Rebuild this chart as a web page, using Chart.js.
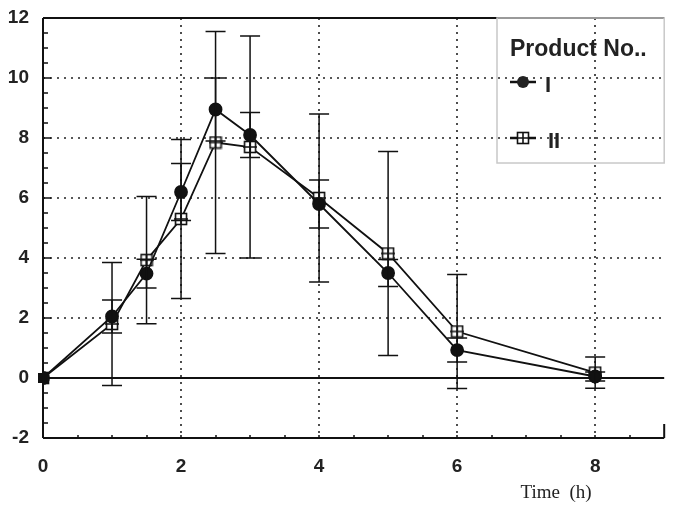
<!DOCTYPE html>
<html>
<head>
<meta charset="utf-8">
<script src="https://cdn.jsdelivr.net/npm/chart.js@4.4.1/dist/chart.umd.min.js"></script>
<style>
  body { margin: 0; background: #fff; }
  #wrap { width: 673px; height: 506px; position: relative; }
</style>
</head>
<body>
<div id="wrap"><canvas id="plasmaChart"></canvas></div>
<script>
// Sampling times (h) and mean concentrations with SD for both products
const times = [0, 1, 1.5, 2, 2.5, 3, 4, 5, 6, 8];
const productI = [0, 2.05, 3.48, 6.2, 8.95, 8.1, 5.8, 3.5, 0.93, 0.05];
const productIErr = [0, 0.55, 0.48, 0.95, 1.05, 0.75, 0.8, 0.45, 0.4, 0.15];
const productII = [0, 1.8, 3.93, 5.3, 7.85, 7.7, 6.0, 4.15, 1.55, 0.18];
const productIIErr = [0, 2.05, 2.12, 2.65, 3.7, 3.7, 2.8, 3.4, 1.9, 0.52];
const xTicks = [0, 2, 4, 6, 8];
const yTicks = [-2, 0, 2, 4, 6, 8, 10, 12];
const seriesLabels = ['I', 'II'];

// open square with a cross, used for product II
function makeSquareMarker(size) {
  const c = document.createElement('canvas');
  c.width = size; c.height = size;
  const g = c.getContext('2d');
  const m = 1.5, s = size - 3;
  g.fillStyle = '#fff';
  g.fillRect(m, m, s, s);
  g.strokeStyle = '#111';
  g.lineWidth = 1.6;
  g.strokeRect(m, m, s, s);
  g.beginPath();
  g.moveTo(0, size / 2); g.lineTo(size, size / 2);
  g.moveTo(size / 2, m); g.lineTo(size / 2, size - m);
  g.stroke();
  return c;
}
const squareMarker = makeSquareMarker(14);

function toPoints(ys) {
  return times.map((t, i) => ({ x: t, y: ys[i] }));
}

// grid, frame, minor ticks
const framePlugin = {
  id: 'frame',
  beforeDatasetsDraw(chart) {
    const { ctx, chartArea: a, scales: { x, y } } = chart;
    ctx.save();
    ctx.strokeStyle = '#222';
    ctx.lineWidth = 1.6;
    ctx.setLineDash([2, 5]);
    xTicks.slice(1).forEach(v => {
      const px = Math.round(x.getPixelForValue(v));
      ctx.beginPath(); ctx.moveTo(px, a.top); ctx.lineTo(px, a.bottom); ctx.stroke();
    });
    yTicks.filter(v => v > 0 && v < 12).forEach(v => {
      const py = Math.round(y.getPixelForValue(v));
      ctx.beginPath(); ctx.moveTo(a.left, py); ctx.lineTo(a.right, py); ctx.stroke();
    });
    ctx.setLineDash([]);
    ctx.lineWidth = 2;
    ctx.strokeStyle = '#111';
    // left axis, top border, bottom axis, zero line
    ctx.beginPath();
    ctx.moveTo(a.left, a.top); ctx.lineTo(a.right, a.top);
    ctx.moveTo(a.left, a.top); ctx.lineTo(a.left, a.bottom);
    ctx.moveTo(a.left, a.bottom); ctx.lineTo(a.right, a.bottom);
    ctx.moveTo(a.right, a.bottom); ctx.lineTo(a.right, a.bottom - 14);
    const y0 = y.getPixelForValue(0);
    ctx.moveTo(a.left, y0); ctx.lineTo(a.right, y0);
    ctx.stroke();
    // y ticks every 0.5, longer at labels
    ctx.lineWidth = 1.5;
    ctx.beginPath();
    for (let v = -2; v <= 12; v += 0.5) {
      const py = Math.round(y.getPixelForValue(v));
      const len = (v % 2 === 0) ? 8 : 5;
      ctx.moveTo(a.left, py); ctx.lineTo(a.left + len, py);
    }
    for (let v = 0.5; v < 9; v += 0.5) {
      const px = Math.round(x.getPixelForValue(v));
      ctx.moveTo(px, a.bottom); ctx.lineTo(px, a.bottom - 3);
    }
    ctx.stroke();
    ctx.restore();
  },
  afterDatasetsDraw(chart) {
    // error bars drawn through the scales
    const { ctx, scales: { x, y } } = chart;
    ctx.save();
    ctx.strokeStyle = '#111';
    ctx.lineWidth = 1.5;
    const cap = 10;
    [[productII, productIIErr], [productI, productIErr]].forEach(([vals, errs]) => {
      times.forEach((t, i) => {
        if (!errs[i]) return;
        const px = x.getPixelForValue(t);
        const hi = y.getPixelForValue(vals[i] + errs[i]);
        const lo = y.getPixelForValue(vals[i] - errs[i]);
        ctx.beginPath();
        ctx.moveTo(px, hi); ctx.lineTo(px, lo);
        ctx.moveTo(px - cap, hi); ctx.lineTo(px + cap, hi);
        ctx.moveTo(px - cap, lo); ctx.lineTo(px + cap, lo);
        ctx.stroke();
      });
    });
    // overlapping start point shows as a solid block
    const px0 = x.getPixelForValue(times[0]);
    const py0 = y.getPixelForValue(productI[0]);
    ctx.fillStyle = '#111';
    ctx.fillRect(px0 - 5, py0 - 5, 10, 10);
    ctx.restore();
  },
  afterDraw(chart) {
    const { ctx, chartArea: a } = chart;
    ctx.save();
    // legend box
    ctx.strokeStyle = '#c8c8c8';
    ctx.lineWidth = 1.5;
    ctx.strokeRect(497, a.top, a.right - 497, 145);
    ctx.fillStyle = '#222';
    ctx.font = 'bold 23px "Liberation Sans", Arial, sans-serif';
    ctx.textBaseline = 'middle';
    ctx.fillText('Product No..', 510, 50);
    ctx.strokeStyle = '#111';
    ctx.lineWidth = 2.5;
    ctx.beginPath();
    ctx.moveTo(510, 82); ctx.lineTo(536, 82);
    ctx.moveTo(510, 138); ctx.lineTo(536, 138);
    ctx.stroke();
    ctx.beginPath();
    ctx.arc(523, 82, 6, 0, Math.PI * 2);
    ctx.fill();
    ctx.drawImage(squareMarker, 516, 131);
    ctx.font = 'bold 22px "Liberation Sans", Arial, sans-serif';
    ctx.fillText(seriesLabels[0], 545, 86);
    ctx.fillText(seriesLabels[1], 548, 142);
    // x axis title
    ctx.font = '19px "Liberation Serif", "Times New Roman", serif';
    ctx.textAlign = 'center';
    ctx.fillText('Time  (h)', 556, 493);
    ctx.restore();
  }
};

const tickFont = { family: '"Liberation Sans", Arial, sans-serif', size: 19, weight: 'bold' };

new Chart(document.getElementById('plasmaChart'), {
  type: 'line',
  data: {
    datasets: [
      {
        label: seriesLabels[0],
        data: toPoints(productI),
        borderColor: '#111',
        borderWidth: 1.8,
        pointStyle: 'circle',
        pointRadius: 6,
        pointBackgroundColor: '#111',
        pointBorderColor: '#111',
        tension: 0
      },
      {
        label: seriesLabels[1],
        data: toPoints(productII),
        borderColor: '#111',
        borderWidth: 1.8,
        pointStyle: squareMarker,
        pointRadius: 7,
        tension: 0
      }
    ]
  },
  options: {
    responsive: true,
    maintainAspectRatio: false,
    animation: false,
    layout: { padding: { top: 18, right: 5, left: 0, bottom: 0 } },
    plugins: { legend: { display: false }, tooltip: { enabled: false } },
    scales: {
      x: {
        type: 'linear',
        min: 0, max: 9,
        grid: { display: false },
        border: { display: false },
        afterBuildTicks: scale => { scale.ticks = xTicks.map(v => ({ value: v })); },
        afterFit: scale => { scale.height = 68; },
        ticks: { color: '#222', font: tickFont, padding: 9, maxRotation: 0 }
      },
      y: {
        min: -2, max: 12,
        grid: { display: false },
        border: { display: false },
        afterBuildTicks: scale => { scale.ticks = yTicks.map(v => ({ value: v })); },
        afterFit: scale => { scale.width = 43; },
        ticks: { color: '#222', font: tickFont, padding: 6 }
      }
    }
  },
  plugins: [framePlugin]
});
</script>
</body>
</html>
